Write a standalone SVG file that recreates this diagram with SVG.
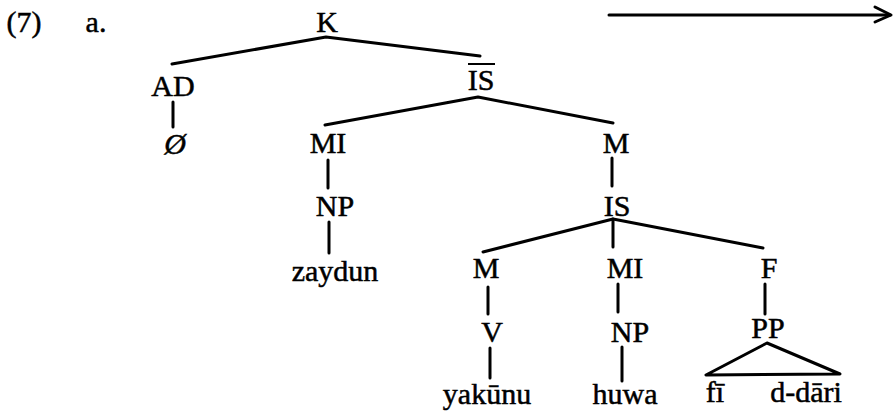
<svg xmlns="http://www.w3.org/2000/svg" width="894" height="417" viewBox="0 0 894 417">
<style>
.t{fill:#000;stroke:#000;stroke-width:0.5;text-anchor:middle}
.e{stroke:#000;stroke-width:3;fill:none;stroke-linecap:round;stroke-linejoin:round}
</style>
<rect width="894" height="417" fill="#fff"/>
<g id="label">
<text class="t" font-family="Liberation Serif" font-size="30" x="24" y="32">(7)</text>
<text class="t" font-family="Liberation Serif" font-size="30" x="96" y="32">a.</text>
</g>
<g id="n-K"><text class="t" font-family="Liberation Serif" font-size="30" x="327" y="32">K</text></g>
<g id="n-AD"><text class="t" font-family="Liberation Serif" font-size="30" x="173" y="96">AD</text></g>
<g id="n-null"><text class="t" font-family="Liberation Serif" font-size="30" font-style="italic" x="175" y="154">Ø</text></g>
<g id="n-ISbar"><text class="t" font-family="Liberation Serif" font-size="30" x="481" y="90">IS</text><line x1="468" y1="64" x2="495" y2="64" stroke="#000" stroke-width="2"/></g>
<g id="n-MI1"><text class="t" font-family="Liberation Serif" font-size="30" x="328" y="153">MI</text></g>
<g id="n-M1"><text class="t" font-family="Liberation Serif" font-size="30" x="616" y="153">M</text></g>
<g id="n-NP1"><text class="t" font-family="Liberation Serif" font-size="30" x="335" y="216">NP</text></g>
<g id="n-IS"><text class="t" font-family="Liberation Serif" font-size="30" x="617" y="216">IS</text></g>
<g id="n-zaydun"><text class="t" font-family="Liberation Serif" font-size="30" x="335" y="281">zaydun</text></g>
<g id="n-M2"><text class="t" font-family="Liberation Serif" font-size="30" x="486" y="278">M</text></g>
<g id="n-MI2"><text class="t" font-family="Liberation Serif" font-size="30" x="625" y="278">MI</text></g>
<g id="n-F"><text class="t" font-family="Liberation Serif" font-size="30" x="769" y="278">F</text></g>
<g id="n-V"><text class="t" font-family="Liberation Serif" font-size="30" x="492" y="342">V</text></g>
<g id="n-NP2"><text class="t" font-family="Liberation Serif" font-size="30" x="630" y="342">NP</text></g>
<g id="n-PP"><text class="t" font-family="Liberation Serif" font-size="30" x="768" y="338">PP</text></g>
<g id="n-yakunu"><text class="t" font-family="Liberation Serif" font-size="30" x="487" y="404">yakūnu</text></g>
<g id="n-huwa"><text class="t" font-family="Liberation Serif" font-size="30" x="625" y="404">huwa</text></g>
<g id="n-fi"><text class="t" font-family="Liberation Serif" font-size="30" x="715" y="402">fī</text></g>
<g id="n-ddari"><text class="t" font-family="Liberation Serif" font-size="30" x="806" y="402">d-dāri</text></g>
<g id="arrow">
<line class="e" x1="609" y1="15" x2="890" y2="15" stroke-width="2"/>
<polyline class="e" points="875,7 891,15 875,22" stroke-width="2"/>
</g>
<g id="connectors">
<polyline class="e" points="172,64 326,37 480,56"/>
<line class="e" x1="173" y1="102" x2="173" y2="127"/>
<polyline class="e" points="325,125 478,97 613,123"/>
<line class="e" x1="328" y1="160" x2="328" y2="188"/>
<line class="e" x1="329" y1="222" x2="329" y2="253"/>
<line class="e" x1="612" y1="158" x2="612" y2="186"/>
<polyline class="e" points="483,252 613,219 763,248"/>
<line class="e" x1="613" y1="219" x2="613" y2="247"/>
<line class="e" x1="488" y1="287" x2="488" y2="314"/>
<line class="e" x1="490" y1="348" x2="490" y2="378"/>
<line class="e" x1="618" y1="284" x2="618" y2="312"/>
<line class="e" x1="622" y1="347" x2="622" y2="381"/>
<line class="e" x1="765" y1="284" x2="765" y2="314"/>
<polygon class="e" points="767,343 706,375 840,374"/>
</g>
</svg>
